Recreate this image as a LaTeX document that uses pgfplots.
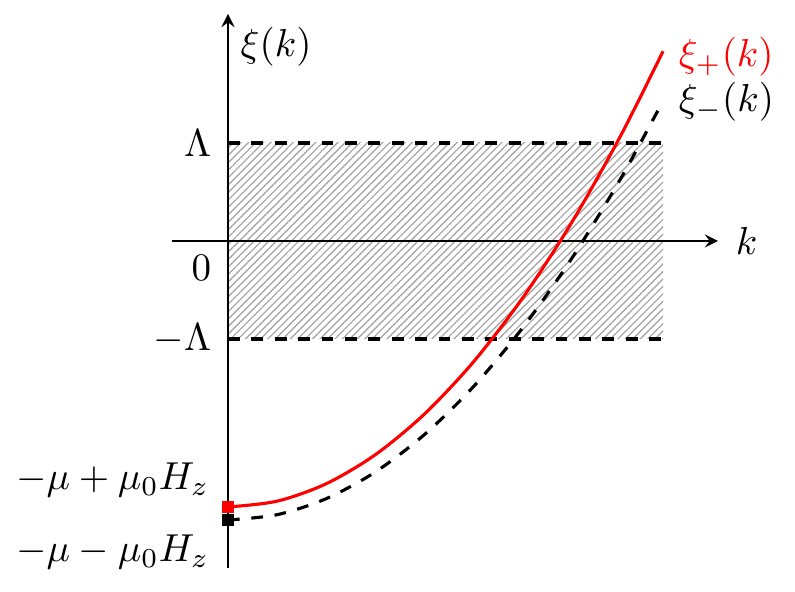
\documentclass[border=0pt]{standalone}
\usepackage{pgfplots}
\pgfplotsset{compat=1.18}
\usetikzlibrary{patterns.meta}
\begin{document}
\begin{tikzpicture}
\begin{axis}[
  set layers,
  anchor=origin, at={(0pt,0pt)},
  x=25.13pt, y=25.13pt,
  xmin=-0.571, xmax=5.0, ymin=-3.337, ymax=2.316,
  enlargelimits=false,
  axis lines=middle,
  axis line style={line width=0.5pt},
  xtick=\empty, ytick=\empty,
  clip=false,
]
% hatched band
\addplot[on layer=axis background, draw=none, pattern={Lines[angle=45,distance=1.35pt,line width=0.3pt]}, pattern color=gray!75]
  coordinates {(0,-1) (4.439,-1) (4.439,1) (0,1)} -- cycle;
\addplot[thick, dashed] coordinates {(0,1) (4.439,1)};
\addplot[thick, dashed] coordinates {(0,-1) (4.439,-1)};
% xi_-
\addplot[thick, dashed, smooth] coordinates {
 (0,-2.847) (0.5,-2.793) (1.0,-2.630) (1.5,-2.359) (2.0,-1.979)
 (2.5,-1.491) (3.0,-0.894) (3.5,-0.189) (4.0,0.625) (4.439,1.429)};
% xi_+
\addplot[thick, red, smooth] coordinates {
 (0,-2.714) (0.5,-2.655) (1.0,-2.478) (1.5,-2.183) (2.0,-1.770)
 (2.5,-1.239) (3.0,-0.590) (3.5,0.177) (4.0,1.062) (4.439,1.936)};
\addplot[only marks, mark=square*, mark size=1.4pt, black] coordinates {(0,-2.847)};
\addplot[only marks, mark=square*, mark size=1.4pt, red] coordinates {(0,-2.714)};
% labels
\node[anchor=west, inner sep=0pt] at (axis cs:0.122,1.98) {$\xi(k)$};
\node[anchor=west, inner sep=0pt] at (axis cs:5.173,0) {$k$};
\node[anchor=west, inner sep=0pt, red] at (axis cs:4.592,1.878) {$\xi_+(k)$};
\node[anchor=west, inner sep=0pt] at (axis cs:4.592,1.418) {$\xi_-(k)$};
\node[anchor=east, inner sep=0pt] at (axis cs:-0.163,1) {$\Lambda$};
\node[anchor=east, inner sep=0pt] at (axis cs:-0.163,-1) {$-\Lambda$};
\node[anchor=east, inner sep=0pt] at (axis cs:-0.163,-0.276) {$0$};
\node[anchor=east, inner sep=0pt] at (axis cs:-0.184,-2.439) {$-\mu+\mu_0H_z$};
\node[anchor=east, inner sep=0pt] at (axis cs:-0.184,-3.173) {$-\mu-\mu_0H_z$};
\end{axis}
\pgfresetboundingbox
\path[use as bounding box] (-58.46pt,-90.0pt) rectangle (145.38pt,61.79pt);
\end{tikzpicture}
\end{document}
